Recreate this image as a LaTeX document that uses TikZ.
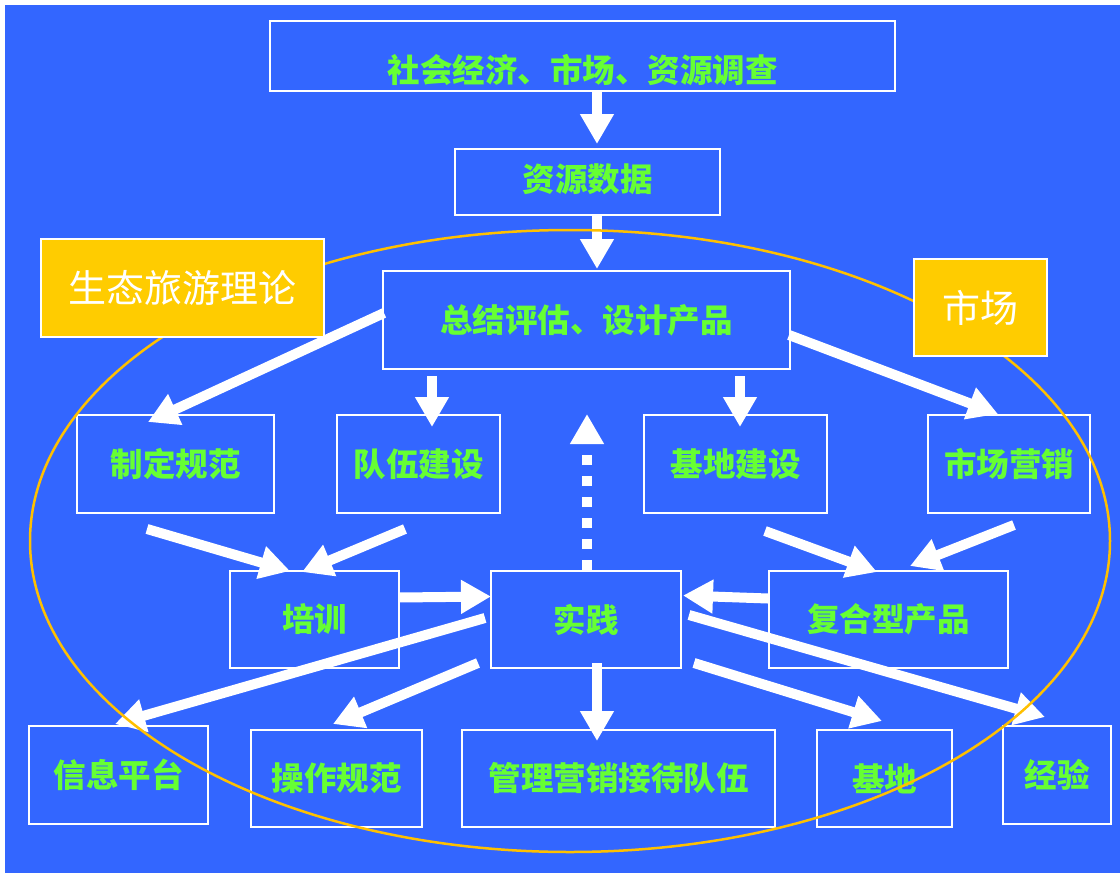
\documentclass[tikz,border=0pt]{standalone}
\usepackage{fontspec}
\setmainfont{Noto Sans CJK SC}
\usepackage{xcolor}
\usepackage{tikz}
\usetikzlibrary{calc}
\usetikzlibrary{arrows.meta}
\definecolor{bgblue}{RGB}{51,102,255}
\definecolor{txtgreen}{RGB}{102,255,51}
\definecolor{boxyellow}{RGB}{255,204,0}
\definecolor{ringyellow}{RGB}{255,192,0}
\tikzstyle{plainbox}=[draw=white, line width=2pt, shape=rectangle, inner sep=0pt, text=txtgreen, font=\fontsize{32.5}{38}\selectfont\bfseries]
\tikzstyle{yellowbox}=[draw=white, line width=2pt, shape=rectangle, fill=boxyellow, inner sep=0pt, text=white, font=\fontsize{38}{44}\selectfont]
\tikzstyle{flow}=[-{Triangle[length=30pt, width=32pt]}, line width=10pt, draw=white]
\tikzstyle{dottedflow}=[flow, dash pattern=on 10.5pt off 10.5pt]

\begin{document}
\begin{tikzpicture}[x=1pt, y=-1pt]
\useasboundingbox (0,0) rectangle (1120,873);
\fill[white] (0,0) rectangle (1120,873);
\fill[bgblue] (5,5) rectangle (1120,873);

\node [plainbox, minimum width=625pt, minimum height=70pt] (survey) at (582.5,56) {\raisebox{-14pt}[\height][\depth]{社会经济、市场、资源调查}};
\node [plainbox, minimum width=265pt, minimum height=66pt] (data) at (587.5,182) {\raisebox{3pt}[\height][\depth]{资源数据}};
\node [plainbox, minimum width=407pt, minimum height=98pt] (summary) at (586.5,320) {总结评估、设计产品};
\node [plainbox, minimum width=197pt, minimum height=98pt] (norms) at (175.5,464) {制定规范};
\node [plainbox, minimum width=163pt, minimum height=98pt] (team) at (418.5,464) {队伍建设};
\node [plainbox, minimum width=183pt, minimum height=98pt] (base) at (735.5,464) {基地建设};
\node [plainbox, minimum width=162pt, minimum height=98pt] (marketing) at (1009,464) {市场营销};
\node [plainbox, minimum width=169pt, minimum height=97pt] (training) at (314.5,619.5) {培训};
\node [plainbox, minimum width=190pt, minimum height=97pt] (practice) at (586,619.5) {实践};
\node [plainbox, minimum width=239pt, minimum height=97pt] (compound) at (888.5,619.5) {复合型产品};
\node [plainbox, minimum width=179pt, minimum height=98pt] (info) at (118.5,775) {信息平台};
\node [plainbox, minimum width=171pt, minimum height=97pt] (ops) at (336.5,778.5) {操作规范};
\node [plainbox, minimum width=313pt, minimum height=97pt] (mgmt) at (618.5,778.5) {管理营销接待队伍};
\node [plainbox, minimum width=135pt, minimum height=97pt] (basebot) at (884.5,778.5) {基地};
\node [plainbox, minimum width=108pt, minimum height=98pt] (exp) at (1057,775) {经验};

\draw[flow] ([xshift=14.5pt]survey.south) -- ([xshift=9.5pt, yshift=4pt]data.north);
\draw[flow] ([xshift=9.5pt]data.south) -- ([xshift=10.5pt, yshift=1pt]summary.north);
\draw[flow] ([xshift=2pt, yshift=7pt]summary.west) -- ([xshift=-27.5pt, yshift=-8pt]norms.north);
\draw[flow] ([xshift=-154.5pt, yshift=-6pt]summary.south) -- ([xshift=13.5pt, yshift=-13pt]team.north);
\draw[flow] ([xshift=153.5pt, yshift=-6pt]summary.south) -- ([xshift=4.5pt, yshift=-13pt]base.north);
\draw[flow] ([xshift=-2pt, yshift=-15pt]summary.east) -- ([xshift=-11pt]marketing.north);
\draw[flow] ([xshift=-28.5pt, yshift=-15pt]norms.south) -- ([xshift=-24.5pt, yshift=-1pt]training.north);
\draw[flow] ([xshift=-13.5pt, yshift=-15pt]team.south) -- ([xshift=-12.5pt, yshift=-2pt]training.north);
\draw[flow] ([xshift=29.5pt, yshift=-17pt]base.south) -- ([xshift=-11.5pt, yshift=-2pt]compound.north);
\draw[flow] ([xshift=5pt, yshift=-11pt]marketing.south) -- ([xshift=21.5pt, yshift=4pt]compound.north);
\draw[flow] ([xshift=-1pt, yshift=22pt]training.east) -- ([xshift=1pt, yshift=23pt]practice.west);
\draw[flow] ([yshift=21pt]compound.west) -- ([xshift=1pt, yshift=24pt]practice.east);
\draw[dottedflow] ([xshift=1pt]practice.north) -- ([xshift=0.5pt, yshift=-44pt]summary.south);
\draw[flow] ([xshift=-5pt, yshift=1.5pt]practice.west) -- ([xshift=-3.5pt, yshift=1pt]info.north);
\draw[flow] ([xshift=-12pt, yshift=6pt]practice.south west) -- ([xshift=-3.5pt, yshift=5pt]ops.north);
\draw[flow] ([xshift=11pt, yshift=6pt]practice.south) -- ([xshift=-21.5pt, yshift=-12pt]mgmt.north);
\draw[flow] ([xshift=12pt, yshift=6pt]practice.south east) -- ([xshift=-2.5pt, yshift=8pt]basebot.north);
\draw[flow] ([xshift=7pt, yshift=4.5pt]practice.east) -- ([xshift=-12pt, yshift=8pt]exp.north);

% ring round the work
\draw[ringyellow, line width=2.5pt] (570,541) ellipse [x radius=540pt, y radius=311pt];

\node [yellowbox, minimum width=283pt, minimum height=98pt] (theory) at (182.5,288) {生态旅游理论};
\node [yellowbox, minimum width=133pt, minimum height=97pt] (market) at (980.5,307.5) {市场};
\end{tikzpicture}
\end{document}
